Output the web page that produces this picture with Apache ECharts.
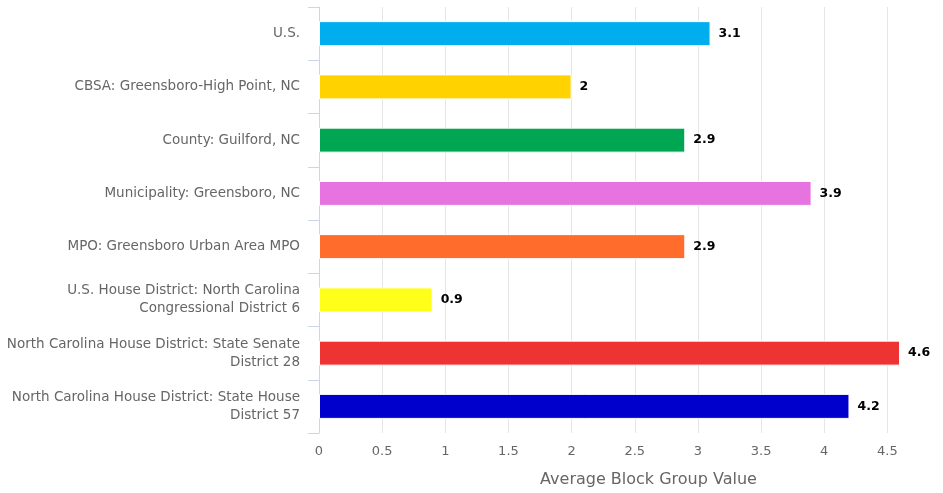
<!DOCTYPE html>
<html>
<head>
<meta charset="utf-8">
<script src="https://cdn.jsdelivr.net/npm/echarts@6/dist/echarts.min.js"></script>
<style>
  html, body { margin: 0; padding: 0; background: #fff; }
  #chart { width: 943px; height: 493px; }
</style>
</head>
<body>
<div id="chart"></div>
<script>
// categories and values
const categories = [
  "U.S.",
  "CBSA: Greensboro-High Point, NC",
  "County: Guilford, NC",
  "Municipality: Greensboro, NC",
  "MPO: Greensboro Urban Area MPO",
  "U.S. House District: North Carolina\nCongressional District 6",
  "North Carolina House District: State Senate\nDistrict 28",
  "North Carolina House District: State House\nDistrict 57"
];
const values = [3.1, 2, 2.9, 3.9, 2.9, 0.9, 4.6, 4.2];
const xTicks = { min: 0, max: 4.6, interval: 0.5 };

// one colour per bar
const barColors = ["#00aeef", "#ffd200", "#00a651", "#e673df", "#ff6c2c", "#ffff1a", "#ee3333", "#0000cc"];

const font = "DejaVu Sans";
const chart = echarts.init(document.getElementById("chart"));

chart.setOption({
  animation: false,
  backgroundColor: "#fff",
  grid: {
    left: 319,
    right: 43,
    top: 7,
    bottom: 60,
    containLabel: false,
    outerBoundsMode: "none"
  },
  xAxis: {
    type: "value",
    min: xTicks.min,
    max: xTicks.max,
    interval: xTicks.interval,
    name: "Average Block Group Value",
    nameLocation: "middle",
    nameGap: 39,
    nameTextStyle: {
      color: "#666",
      fontSize: 16,
      fontFamily: font,
      padding: [0, 0, 0, 78]
    },
    axisLine: { show: false },
    axisTick: { show: false },
    axisLabel: {
      color: "#666",
      fontSize: 13,
      fontFamily: font,
      margin: 12,
      showMaxLabel: false
    },
    splitLine: {
      show: true,
      showMaxLine: false,
      lineStyle: { color: "#e6e6e6", width: 1 }
    }
  },
  yAxis: {
    type: "category",
    inverse: true,
    data: categories,
    axisLine: { show: true, lineStyle: { color: "#ccd6eb", width: 1 } },
    axisTick: { show: true, length: 11, lineStyle: { color: "#ccd6eb", width: 1 } },
    splitLine: { show: false },
    axisLabel: {
      color: "#666",
      fontSize: 13.5,
      fontFamily: font,
      lineHeight: 18,
      margin: 19,
      align: "right"
    }
  },
  series: [
    {
      type: "bar",
      barWidth: 25,
      data: values.map((v, i) => ({
        value: v,
        itemStyle: { color: barColors[i] }
      })),
      itemStyle: { borderColor: "#fff", borderWidth: 1 },
      label: {
        show: true,
        position: "right",
        distance: 8,
        color: "#000",
        fontWeight: "bold",
        fontSize: 12.5,
        fontFamily: font
      }
    }
  ]
});
</script>
</body>
</html>
